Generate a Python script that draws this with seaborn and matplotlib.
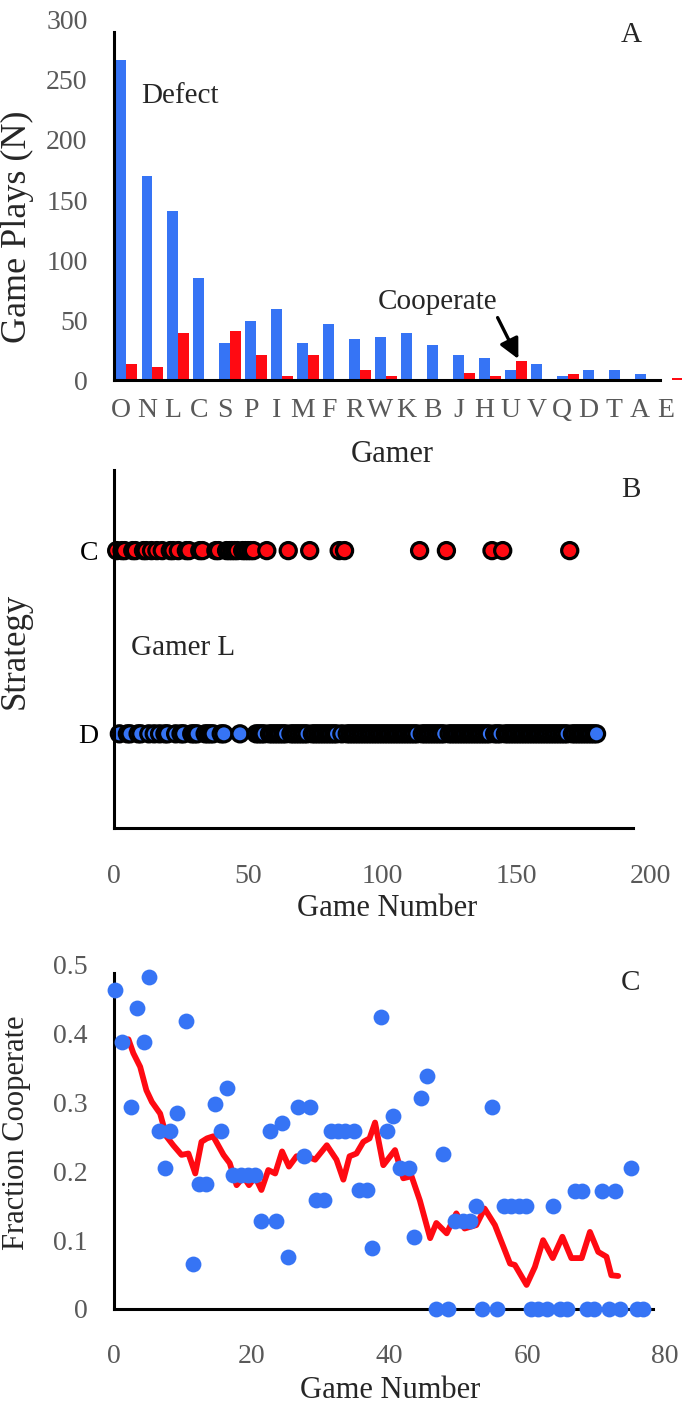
import numpy as np
import pandas as pd
import matplotlib
matplotlib.use("Agg")
import matplotlib.pyplot as plt
import seaborn as sns

sns.set_style("white")
plt.rcParams['font.family'] = ['Liberation Serif', 'DejaVu Serif']

BLUE = '#3674F5'
RED = '#FF0A12'
GREY = '#595959'

# panel A: game plays per gamer
gamers = ['O', 'N', 'L', 'C', 'S', 'P', 'I', 'M', 'F', 'R', 'W',
          'K', 'B', 'J', 'H', 'U', 'V', 'Q', 'D', 'T', 'A', 'E']
defect = [267, 170, 141, 85, 31, 49, 59, 31, 47, 34, 36,
          39, 29, 21, 18, 8, 13, 3, 8, 8, 5, 0]
cooperate = [13, 11, 39, 0, 41, 21, 3, 21, 0, 8, 3,
             0, 0, 6, 3, 16, 0, 5, 0, 0, 0, 2]

# panel B: gamer L, games where L cooperated (all others defect)
n_games_L = 180
coop_games_L = [1, 3, 4, 7, 8, 11, 12, 14, 16, 18, 21, 22, 24, 27, 28, 32, 33,
                38, 39, 42, 43, 44, 45, 46, 48, 49, 50, 51, 52, 57, 65, 73,
                84, 86, 114, 124, 141, 145, 170]

# panel C: fraction cooperate per game number, plus running average
game_c = [0.2, 1.2, 2.5, 3.4, 4.3, 5.1, 6.5, 7.4, 8.2, 9.2, 10.5, 11.4, 12.3,
          13.4, 14.6, 15.5, 16.4, 17.3, 18.5, 19.5, 20.5, 21.3, 22.6, 23.5,
          24.4, 25.3, 26.7, 27.6, 28.4, 29.3, 30.5, 31.5, 32.5, 33.6, 34.8,
          35.5, 36.7, 37.4, 38.8, 39.6, 40.5, 41.5, 42.9, 43.6, 44.6, 45.5,
          46.8, 47.7, 48.5, 49.5, 50.7, 51.7, 52.6, 53.5, 54.9, 55.6, 56.6,
          57.7, 58.8, 59.8, 60.6, 61.6, 62.8, 63.8, 64.7, 65.7, 66.9, 67.9,
          68.7, 69.7, 70.9, 71.8, 72.7, 73.5, 75.0, 75.9, 76.8]
frac_c = [0.464, 0.388, 0.294, 0.437, 0.388, 0.482, 0.258, 0.205, 0.258, 0.285,
          0.419, 0.065, 0.182, 0.182, 0.298, 0.258, 0.321, 0.195, 0.195, 0.195,
          0.195, 0.128, 0.258, 0.128, 0.271, 0.075, 0.294, 0.222, 0.294, 0.159,
          0.159, 0.258, 0.258, 0.258, 0.258, 0.173, 0.173, 0.088, 0.424, 0.258,
          0.280, 0.205, 0.205, 0.105, 0.307, 0.339, 0.0, 0.226, 0.0, 0.128,
          0.128, 0.128, 0.150, 0.0, 0.294, 0.0, 0.150, 0.150, 0.150, 0.150,
          0.0, 0.0, 0.0, 0.150, 0.0, 0.0, 0.172, 0.172, 0.0, 0.0,
          0.172, 0.0, 0.172, 0.0, 0.205, 0.0, 0.0]
avg_game = [2.1, 2.8, 3.8, 4.7, 5.5, 6.7, 7.6, 8.6, 9.8, 10.8, 11.8, 12.7, 13.5,
            14.4, 15.9, 16.8, 17.8, 18.8, 19.6, 20.5, 21.4, 22.4, 23.4, 24.4,
            25.4, 26.5, 28.0, 29.2, 30.9, 32.3, 33.3, 34.2, 35.2, 36.2, 37.1,
            37.9, 39.1, 40.1, 40.8, 42.0, 43.2, 44.4, 45.9, 46.8, 48.3, 49.7,
            50.9, 52.6, 53.8, 55.3, 57.5, 58.2, 59.9, 61.1, 62.3, 63.7, 65.1,
            66.4, 67.9, 69.1, 70.3, 71.5, 72.2, 73.2]
avg_frac = [0.392, 0.372, 0.352, 0.318, 0.301, 0.284, 0.251, 0.238, 0.224, 0.226,
            0.197, 0.243, 0.248, 0.251, 0.224, 0.212, 0.180, 0.192, 0.180, 0.192,
            0.173, 0.202, 0.197, 0.229, 0.207, 0.222, 0.222, 0.217, 0.238, 0.217,
            0.188, 0.222, 0.226, 0.243, 0.248, 0.271, 0.209, 0.222, 0.231, 0.190,
            0.193, 0.158, 0.103, 0.125, 0.110, 0.139, 0.117, 0.122, 0.146, 0.122,
            0.066, 0.064, 0.035, 0.061, 0.100, 0.074, 0.105, 0.074, 0.074, 0.112,
            0.083, 0.076, 0.049, 0.048]

W, H = 685, 1412
fig = plt.figure(figsize=(W / 100, H / 100), dpi=100)


def axes_px(left, right, top, bottom):
    return fig.add_axes([left / W, 1 - bottom / H, (right - left) / W, (bottom - top) / H])


def style(ax, xpad, ypad):
    sns.despine(ax=ax)
    for s in ['left', 'bottom']:
        ax.spines[s].set_linewidth(2.2)
        ax.spines[s].set_color('black')
    ax.tick_params(axis='x', length=0, labelsize=20, colors=GREY, pad=xpad)
    ax.tick_params(axis='y', length=0, labelsize=20, colors=GREY, pad=ypad)


# ---- A ----
axA = axes_px(114, 685, 20, 380)
n = len(gamers)
dfA = pd.DataFrame({'Gamer': gamers * 2,
                    'Plays': defect + cooperate,
                    'Strategy': ['Defect'] * n + ['Cooperate'] * n})
sns.barplot(data=dfA, x='Gamer', y='Plays', hue='Strategy',
            palette={'Defect': BLUE, 'Cooperate': RED}, width=0.84,
            saturation=1, errorbar=None, legend=False, linewidth=0, ax=axA)
axA.set_xlim(-0.48, 21.52)
axA.set_ylim(0, 300)
axA.set_xticks(np.arange(n) - 0.21, gamers)
axA.set_yticks(range(0, 301, 50))
style(axA, 13, 19)
axA.spines['left'].set_bounds(0, 290)
axA.spines['bottom'].set_bounds(-0.48, 20.56)
axA.set_xlabel('Gamer', fontsize=22)
axA.set_ylabel('Game Plays (N)', fontsize=26)
axA.xaxis.set_label_coords((392 - 114) / 571, (380 - 455) / 360)
axA.xaxis.label.set_va('center')
axA.yaxis.set_label_coords((17 - 114) / 571, (380 - 227) / 360)
axA.yaxis.label.set_va('center')
axA.text(2.07, 237, 'Defect', fontsize=21, ha='center', va='center')
axA.text(12.0, 65, 'Cooperate', fontsize=21, ha='center', va='center')
axA.annotate('', xy=(15.1, 17.5), xytext=(14.3, 52),
             arrowprops=dict(arrowstyle='-|>', color='black', lw=2.4,
                             mutation_scale=30, shrinkA=0, shrinkB=0))

# ---- B ----
axB = axes_px(114, 685, 470, 828)
defect_games_L = [g for g in range(1, n_games_L + 1) if g not in coop_games_L]
dfB = pd.DataFrame({'game': defect_games_L + coop_games_L,
                    'strategy': [0] * len(defect_games_L) + [1] * len(coop_games_L),
                    'kind': ['D'] * len(defect_games_L) + ['C'] * len(coop_games_L)})
sns.scatterplot(data=dfB, x='game', y='strategy', hue='kind',
                palette={'D': BLUE, 'C': RED}, s=135, edgecolor='black',
                linewidth=2.3, legend=False, clip_on=False, ax=axB)
axB.set_xlim(0, 213)
axB.set_ylim(-0.514, 1.44)
axB.set_xticks(range(0, 201, 50))
axB.set_yticks([0, 1], ['D', 'C'])
style(axB, 26, 11)
axB.tick_params(axis='y', colors='black')
axB.spines['bottom'].set_bounds(0, 193.5)
axB.set_xlabel('Game Number', fontsize=22)
axB.set_ylabel('Strategy', fontsize=25)
axB.xaxis.set_label_coords((387 - 114) / 571, (828 - 908) / 357.6)
axB.xaxis.label.set_va('center')
axB.yaxis.set_label_coords((15 - 114) / 571, (828 - 651) / 357.6)
axB.yaxis.label.set_va('center')
axB.text(6.3, 0.47, 'Gamer L', fontsize=21, va='center')

# ---- C ----
axC = axes_px(114, 685, 965, 1309)
sns.lineplot(x=avg_game, y=avg_frac, color=RED, lw=4.2, sort=False,
             solid_joinstyle='round', solid_capstyle='round', ax=axC)
sns.scatterplot(x=game_c, y=frac_c, color=BLUE, s=130, linewidth=0,
                clip_on=False, ax=axC, zorder=3)
axC.set_xlim(0, 82.9)
axC.set_ylim(0, 0.5)
axC.set_xticks(range(0, 81, 20))
axC.set_yticks([0, 0.1, 0.2, 0.3, 0.4, 0.5], ['0', '0.1', '0.2', '0.3', '0.4', '0.5'])
style(axC, 25, 19)
axC.spines['left'].set_bounds(0, 0.488)
axC.spines['bottom'].set_bounds(0, 78.3)
axC.set_xlabel('Game Number', fontsize=22)
axC.set_ylabel('Fraction Cooperate', fontsize=22)
axC.xaxis.set_label_coords((390 - 114) / 571, (1309 - 1390) / 344)
axC.xaxis.label.set_va('center')
axC.yaxis.set_label_coords((16 - 114) / 571, (1309 - 1133) / 344)
axC.yaxis.label.set_va('center')

for letter, y in [('A', 35), ('B', 490), ('C', 983)]:
    fig.text(631 / W, 1 - y / H, letter, fontsize=21, ha='center', va='center')

fig.savefig('out.png', dpi=100)
